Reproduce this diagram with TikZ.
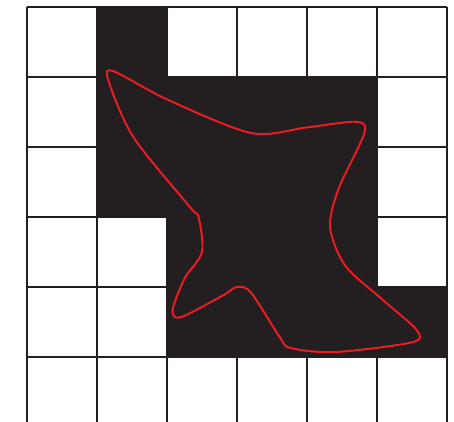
\documentclass[tikz,border=0pt]{standalone}
\usepackage{tikz}
\definecolor{inkblack}{HTML}{231F20}
\definecolor{outlinered}{HTML}{ED1C24}
\tikzset{
  gridline/.style={draw=inkblack, line width=0.8pt},
  blob/.style={draw=outlinered, line width=0.8pt, line join=round}
}
\begin{document}
\begin{tikzpicture}
  \useasboundingbox (-0.386,0.1) rectangle (6.1,-5.929);
  % covered cells
  \fill[inkblack] (1,0) -- (2,0) -- (2,-1) -- (5,-1) -- (5,-4) -- (6,-4)
       -- (6,-5) -- (2,-5) -- (2,-3) -- (1,-3) -- cycle;
  % grid
  \foreach \i in {0,...,6}
    \draw[gridline] (\i,0) -- (\i,-5.929);
  \foreach \j in {0,...,5}
    \draw[gridline] (0,-\j) -- (6,-\j);
  % outline of the shape
  \draw[blob] plot[smooth cycle, tension=0.5] coordinates {
      (1.24,-0.92) (2.0,-1.32) (3.2,-1.8) (4.0,-1.72) (4.7,-1.64)
      (4.82,-1.8) (4.45,-2.6) (4.33,-3.15) (4.55,-3.7) (5.09,-4.19)
      (5.57,-4.62) (5.5,-4.79) (4.4,-4.93) (3.76,-4.87) (3.6,-4.7)
      (3.2,-4.08) (3.0,-4.0) (2.8,-4.12) (2.2,-4.43) (2.08,-4.33)
      (2.25,-3.88) (2.5,-3.5) (2.45,-3.0) (2.33,-2.86) (1.52,-1.86)
      (1.16,-1.04)};
\end{tikzpicture}
\end{document}
